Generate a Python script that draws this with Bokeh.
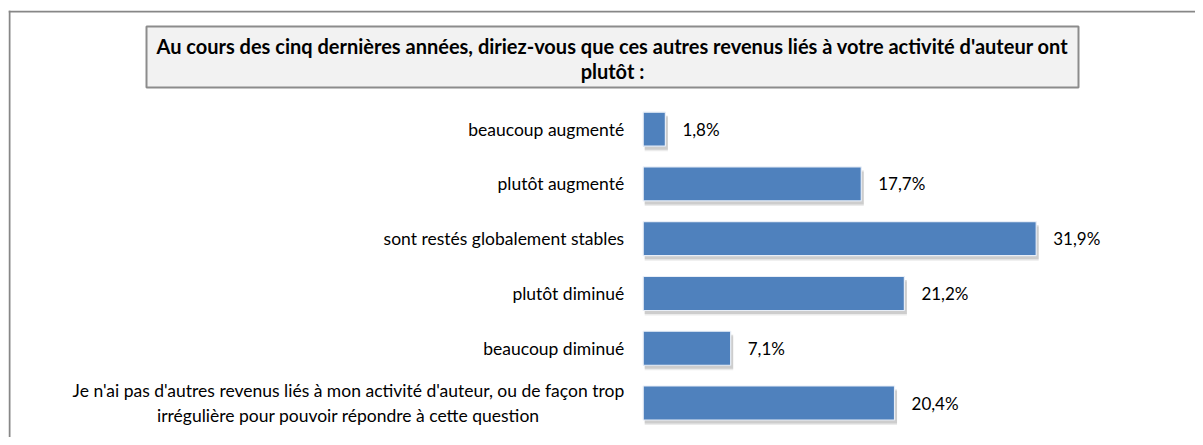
from bokeh.plotting import figure
from bokeh.models import Range1d, ColumnDataSource, Span
from bokeh.embed import file_html
from bokeh.resources import INLINE
from bokeh.core.properties import value

# ---- data ----
title = ("Au cours des cinq dernières années, diriez-vous que ces autres revenus liés à votre activité d'auteur ont\n"
         "plutôt :")
categories = [
    "beaucoup augmenté",
    "plutôt augmenté",
    "sont restés globalement stables",
    "plutôt diminué",
    "beaucoup diminué",
    "Je n'ai pas d'autres revenus liés à mon activité d'auteur, ou de façon trop\nirrégulière pour pouvoir répondre à cette question",
]
values = [1.8, 17.7, 31.9, 21.2, 7.1, 20.4]
value_labels = ["1,8%", "17,7%", "31,9%", "21,2%", "7,1%", "20,4%"]

# ---- layout constants (pixels) ----
W, H = 1195, 437
LEFT, TOP = 8, 10
FRAME_W = W - LEFT
FRAME_H = H - TOP
PX_X = 12.32        # pixels per percent
X0 = 634.7          # frame px from left edge to value 0
PX_Y = 54.76        # pixels between bar centres
Y_FIRST = 118.7     # frame px from top to first bar centre
BAR_H = 34 / PX_Y

n = len(categories)
ypos = [n - 1 - i for i in range(n)]
x_start = -X0 / PX_X
x_end = x_start + FRAME_W / PX_X
y_top = (n - 1) + Y_FIRST / PX_Y
y_bot = y_top - FRAME_H / PX_Y


def xd(px):
    return x_start + px / PX_X


def yd(px):
    return y_top - px / PX_Y


p = figure(width=W, height=H, output_backend="svg", toolbar_location=None,
           x_range=Range1d(x_start, x_end), y_range=Range1d(y_bot, y_top),
           min_border_left=LEFT, min_border_right=0, min_border_top=TOP,
           min_border_bottom=0)
p.axis.visible = False
p.grid.visible = False
p.outline_line_color = None
p.background_fill_color = "white"
p.border_fill_color = "white"

# chart frame border (left and top visible)
p.add_layout(Span(location=xd(1), dimension="height", line_color="#878787", line_width=2))
p.add_layout(Span(location=yd(1), dimension="width", line_color="#878787", line_width=2))

src = ColumnDataSource(dict(y=ypos, v=values, cat=categories, lab=value_labels,
                            zero=[0] * n))

# title box
p.quad(left=[xd(138)], right=[xd(1070)], top=[yd(16)], bottom=[yd(77)],
       fill_color="#f2f2f2", line_color="#8c8c8c", line_width=2)
p.text(x=[xd(604)], y=[yd(48)], text=[title], text_align="center",
       text_baseline="middle", text_font=value("Lato"), text_font_style="bold",
       text_font_size="20px", text_color="#000000", text_line_height=1.08)

# shadows
for off, alpha in [(5, 0.16), (3.5, 0.28)]:
    p.hbar(y=[yy - off / PX_Y for yy in ypos], left=[1.5 / PX_X] * n,
           right=[vv + 2.5 / PX_X for vv in values], height=BAR_H,
           fill_color="#808080", fill_alpha=alpha, line_color=None)

# bars
p.hbar(y="y", left="zero", right="v", height=BAR_H, source=src,
       fill_color="#4f81bd", line_color="#e8eef7", line_width=1.2)

# category labels
p.text(x="zero", y="y", text="cat", source=src, x_offset=-19,
       anchor="center_right", text_align="center", text_baseline="middle",
       text_font=value("Lato"), text_font_size="17.5px", text_color="#000000",
       text_line_height=1.19)

# value labels
p.text(x="v", y="y", text="lab", source=src, x_offset=17,
       text_align="left", text_baseline="middle",
       text_font=value("Lato"), text_font_size="17px", text_color="#000000")

open("out.html", "w").write(file_html(p, INLINE))
